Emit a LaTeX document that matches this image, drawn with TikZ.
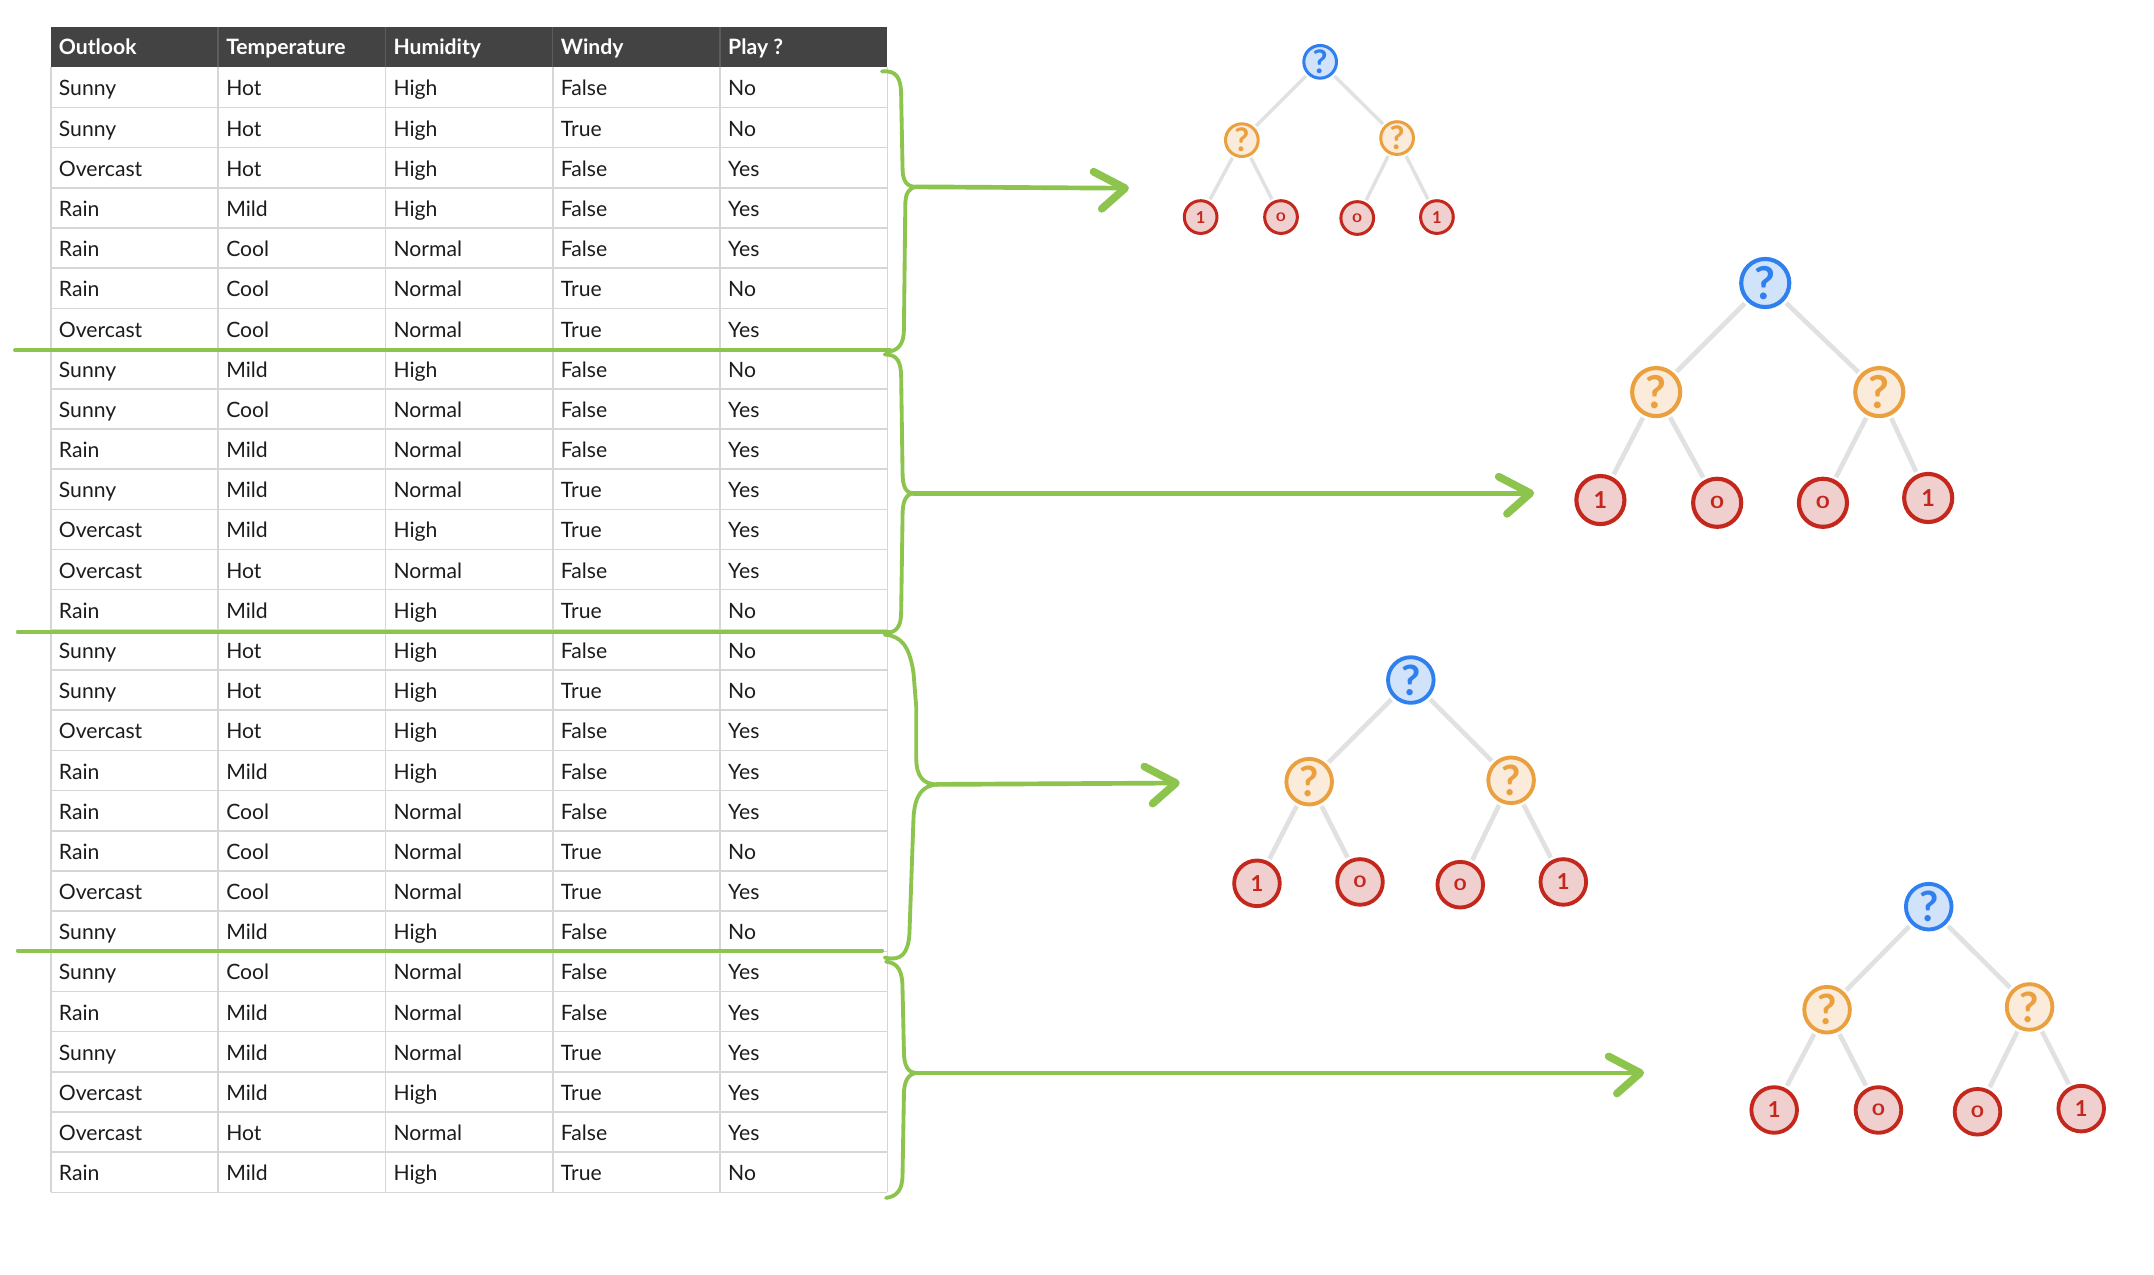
\documentclass[tikz,border=0pt]{standalone}
\usepackage{fontspec}
\usepackage{graphicx}
\setmainfont{Lato}
\usetikzlibrary{calc}
\definecolor{grn}{HTML}{8CC44E}
\definecolor{hdr}{HTML}{434343}
\definecolor{hdrline}{HTML}{5C5C5C}
\definecolor{gridc}{HTML}{D6D6D6}
\definecolor{txt}{HTML}{1C1C1C}
\definecolor{qblue}{HTML}{2F7FEE}
\definecolor{qbluef}{HTML}{D1E3FA}
\definecolor{qor}{HTML}{EBA03F}
\definecolor{qorf}{HTML}{FAEBDB}
\definecolor{lred}{HTML}{C4281D}
\definecolor{lredf}{HTML}{F0CFCF}
\definecolor{edgec}{HTML}{E1E1E1}
\tikzset{
  cell/.style={anchor=base west, inner sep=0pt, text=txt, font=\fontsize{7.7pt}{9pt}\selectfont},
  hcell/.style={anchor=base west, inner sep=0pt, text=white, font=\fontsize{7.7pt}{9pt}\selectfont\bfseries},
  gridl/.style={draw=gridc, line width=0.55pt},
  sepl/.style={draw=grn, line width=1.5pt, line cap=round},
  bracel/.style={draw=grn, line width=1.4pt, line cap=round, line join=round},
  shaft/.style={draw=grn, line width=1.7pt, line cap=round},
  ahead/.style={draw=grn, line width=2.8pt, line cap=round, line join=round},
  tn/.style={circle, inner sep=0pt},
  qb/.style={tn, draw=qblue, fill=qbluef, text=qblue},
  qo/.style={tn, draw=qor, fill=qorf, text=qor},
  lf/.style={tn, draw=lred, fill=lredf, text=lred},
  szA/.style={minimum size=11.9pt, line width=1.1pt},
  szB/.style={minimum size=16.6pt, line width=1.4pt},
  szC/.style={minimum size=17.5pt, line width=1.5pt},
  qA/.style={szA, font=\fontsize{11.8pt}{12pt}\selectfont\bfseries},
  qB/.style={szB, font=\fontsize{15.2pt}{16pt}\selectfont\bfseries},
  qC/.style={szC, font=\fontsize{16.5pt}{17pt}\selectfont\bfseries},
  dA/.style={szA, font=\fontsize{6pt}{7pt}\selectfont\bfseries},
  dB/.style={szB, font=\fontsize{8pt}{9pt}\selectfont\bfseries},
  dC/.style={szC, font=\fontsize{8.5pt}{9pt}\selectfont\bfseries},
  edgA/.style={draw=edgec, line width=1.25pt, shorten >=0.8pt, shorten <=0.8pt},
  edgB/.style={draw=edgec, line width=1.7pt, shorten >=1pt, shorten <=1pt},
}
\newcommand{\zer}{\scalebox{1}[0.72]{0}}
\begin{document}
\begin{tikzpicture}[x=0.5pt,y=-0.5pt]
\useasboundingbox[fill=white] (0,0) rectangle (1568,928.1);

% ---------- table ----------
\fill[hdr] (37,20) rectangle (646,49);
\foreach \k in {1,...,4}{
  \draw[hdrline, line width=0.5pt] ({37+\k*121.8},20) -- ({37+\k*121.8},49);
}
\foreach \t [count=\k] in {Outlook,Temperature,Humidity,Windy,Play ?}{
  \node[hcell] (h\k) at ({37+(\k-1)*121.8+5.5},40) {\t};
}
\foreach \i in {1,...,28}{
  \draw[gridl] (37,{49+\i*29.25}) -- (646,{49+\i*29.25});
}
\foreach \k in {0,...,5}{
  \draw[gridl] ({37+\k*121.8},49) -- ({37+\k*121.8},868);
}
\foreach \a/\b/\c/\d/\e [count=\i] in {
 Sunny/Hot/High/False/No,
 Sunny/Hot/High/True/No,
 Overcast/Hot/High/False/Yes,
 Rain/Mild/High/False/Yes,
 Rain/Cool/Normal/False/Yes,
 Rain/Cool/Normal/True/No,
 Overcast/Cool/Normal/True/Yes,
 Sunny/Mild/High/False/No,
 Sunny/Cool/Normal/False/Yes,
 Rain/Mild/Normal/False/Yes,
 Sunny/Mild/Normal/True/Yes,
 Overcast/Mild/High/True/Yes,
 Overcast/Hot/Normal/False/Yes,
 Rain/Mild/High/True/No,
 Sunny/Hot/High/False/No,
 Sunny/Hot/High/True/No,
 Overcast/Hot/High/False/Yes,
 Rain/Mild/High/False/Yes,
 Rain/Cool/Normal/False/Yes,
 Rain/Cool/Normal/True/No,
 Overcast/Cool/Normal/True/Yes,
 Sunny/Mild/High/False/No,
 Sunny/Cool/Normal/False/Yes,
 Rain/Mild/Normal/False/Yes,
 Sunny/Mild/Normal/True/Yes,
 Overcast/Mild/High/True/Yes,
 Overcast/Hot/Normal/False/Yes,
 Rain/Mild/High/True/No}{
  \pgfmathsetmacro\yb{49+(\i-0.5)*29.25+6.2}
  \node[cell] (r\i-1) at (42.5,\yb) {\a};
  \node[cell] (r\i-2) at (164.3,\yb) {\b};
  \node[cell] (r\i-3) at (286.1,\yb) {\c};
  \node[cell] (r\i-4) at (407.9,\yb) {\d};
  \node[cell] (r\i-5) at (529.7,\yb) {\e};
}

% ---------- green separators ----------
\draw[sepl] (11,255) -- (648,255);
\draw[sepl] (13,460) -- (648,460);
\draw[sepl] (13,692) -- (642,692);

% ---------- braces and arrows ----------
\coordinate (b1) at (667,136); \coordinate (e1) at (819,137);
\coordinate (b2) at (665,359); \coordinate (e2) at (1114,359);
\coordinate (b3) at (682,571); \coordinate (e3) at (856,570);
\coordinate (b4) at (667,781); \coordinate (e4) at (1194,781);

\draw[bracel] (642,52) .. controls (653,51) and (656,57) .. (656,70) -- (657,122)
  .. controls (657,132) and (660,136) .. (b1)
  .. controls (661,137) and (659,141) .. (659,150) -- (658,240)
  .. controls (658,250) and (654,256) .. (645,256);
\draw[bracel] (644,258) .. controls (653,258) and (656,263) .. (656,275) -- (657,343)
  .. controls (657,354) and (659,359) .. (b2)
  .. controls (659,360) and (657,365) .. (657,376) -- (656,445)
  .. controls (656,456) and (653,460) .. (645,461);
\draw[bracel] (644,462) .. controls (656,463) and (662,470) .. (665,490) -- (667,515) -- (667,552)
  .. controls (667,565) and (672,571) .. (b3)
  .. controls (672,572) and (666,578) .. (665,595) -- (662,680)
  .. controls (661,694) and (656,700) .. (644,697);
\draw[bracel] (645,700) .. controls (654,701) and (657,707) .. (657,720) -- (658,765)
  .. controls (658,776) and (661,781) .. (b4)
  .. controls (661,782) and (658,787) .. (658,797) -- (657,855)
  .. controls (657,866) and (653,871) .. (645,872);

\foreach \n in {1,2,3,4}{
  \draw[shaft] (b\n) -- (e\n);
  \draw[ahead] ($(e\n)+(-23,-12)$) -- (e\n) -- ($(e\n)+(-17,15)$);
}

% ---------- tree 1 ----------
\node[qb,qA] (t1r) at (961,45) {?};
\node[qo,qA] (t1a) at (904,102) {?};
\node[qo,qA] (t1b) at (1017,100.5) {?};
\node[lf,dA] (t1l1) at (874,158) {1};
\node[lf,dA] (t1l2) at (932.5,158) {\zer};
\node[lf,dA] (t1l3) at (988,158.7) {\zer};
\node[lf,dA] (t1l4) at (1046,158) {1};
\draw[edgA] (t1r) -- (t1a); \draw[edgA] (t1r) -- (t1b);
\draw[edgA] (t1a) -- (t1l1); \draw[edgA] (t1a) -- (t1l2);
\draw[edgA] (t1b) -- (t1l3); \draw[edgA] (t1b) -- (t1l4);

% ---------- tree 2 ----------
\node[qb,qC] (t2r) at (1285,206) {?};
\node[qo,qC] (t2a) at (1205.6,285.4) {?};
\node[qo,qC] (t2b) at (1368,285.4) {?};
\node[lf,dC] (t2l1) at (1165,364) {1};
\node[lf,dC] (t2l2) at (1250,366) {\zer};
\node[lf,dC] (t2l3) at (1327,366) {\zer};
\node[lf,dC] (t2l4) at (1403.6,362.5) {1};
\draw[edgB] (t2r) -- (t2a); \draw[edgB] (t2r) -- (t2b);
\draw[edgB] (t2a) -- (t2l1); \draw[edgB] (t2a) -- (t2l2);
\draw[edgB] (t2b) -- (t2l3); \draw[edgB] (t2b) -- (t2l4);

% ---------- tree 3 ----------
\node[qb,qB] (t3r) at (1027,495) {?};
\node[qo,qB] (t3a) at (953,569) {?};
\node[qo,qB] (t3b) at (1100,568) {?};
\node[lf,dB] (t3l1) at (915,643) {1};
\node[lf,dB] (t3l2) at (990,642) {\zer};
\node[lf,dB] (t3l3) at (1063,644) {\zer};
\node[lf,dB] (t3l4) at (1138,642) {1};
\draw[edgB] (t3r) -- (t3a); \draw[edgB] (t3r) -- (t3b);
\draw[edgB] (t3a) -- (t3l1); \draw[edgB] (t3a) -- (t3l2);
\draw[edgB] (t3b) -- (t3l3); \draw[edgB] (t3b) -- (t3l4);

% ---------- tree 4 ----------
\node[qb,qB] (t4r) at (1404,660) {?};
\node[qo,qB] (t4a) at (1330,735) {?};
\node[qo,qB] (t4b) at (1477.4,733) {?};
\node[lf,dB] (t4l1) at (1291.5,808) {1};
\node[lf,dB] (t4l2) at (1367.4,808) {\zer};
\node[lf,dB] (t4l3) at (1439.5,809.3) {\zer};
\node[lf,dB] (t4l4) at (1515,807) {1};
\draw[edgB] (t4r) -- (t4a); \draw[edgB] (t4r) -- (t4b);
\draw[edgB] (t4a) -- (t4l1); \draw[edgB] (t4a) -- (t4l2);
\draw[edgB] (t4b) -- (t4l3); \draw[edgB] (t4b) -- (t4l4);
\end{tikzpicture}
\end{document}
